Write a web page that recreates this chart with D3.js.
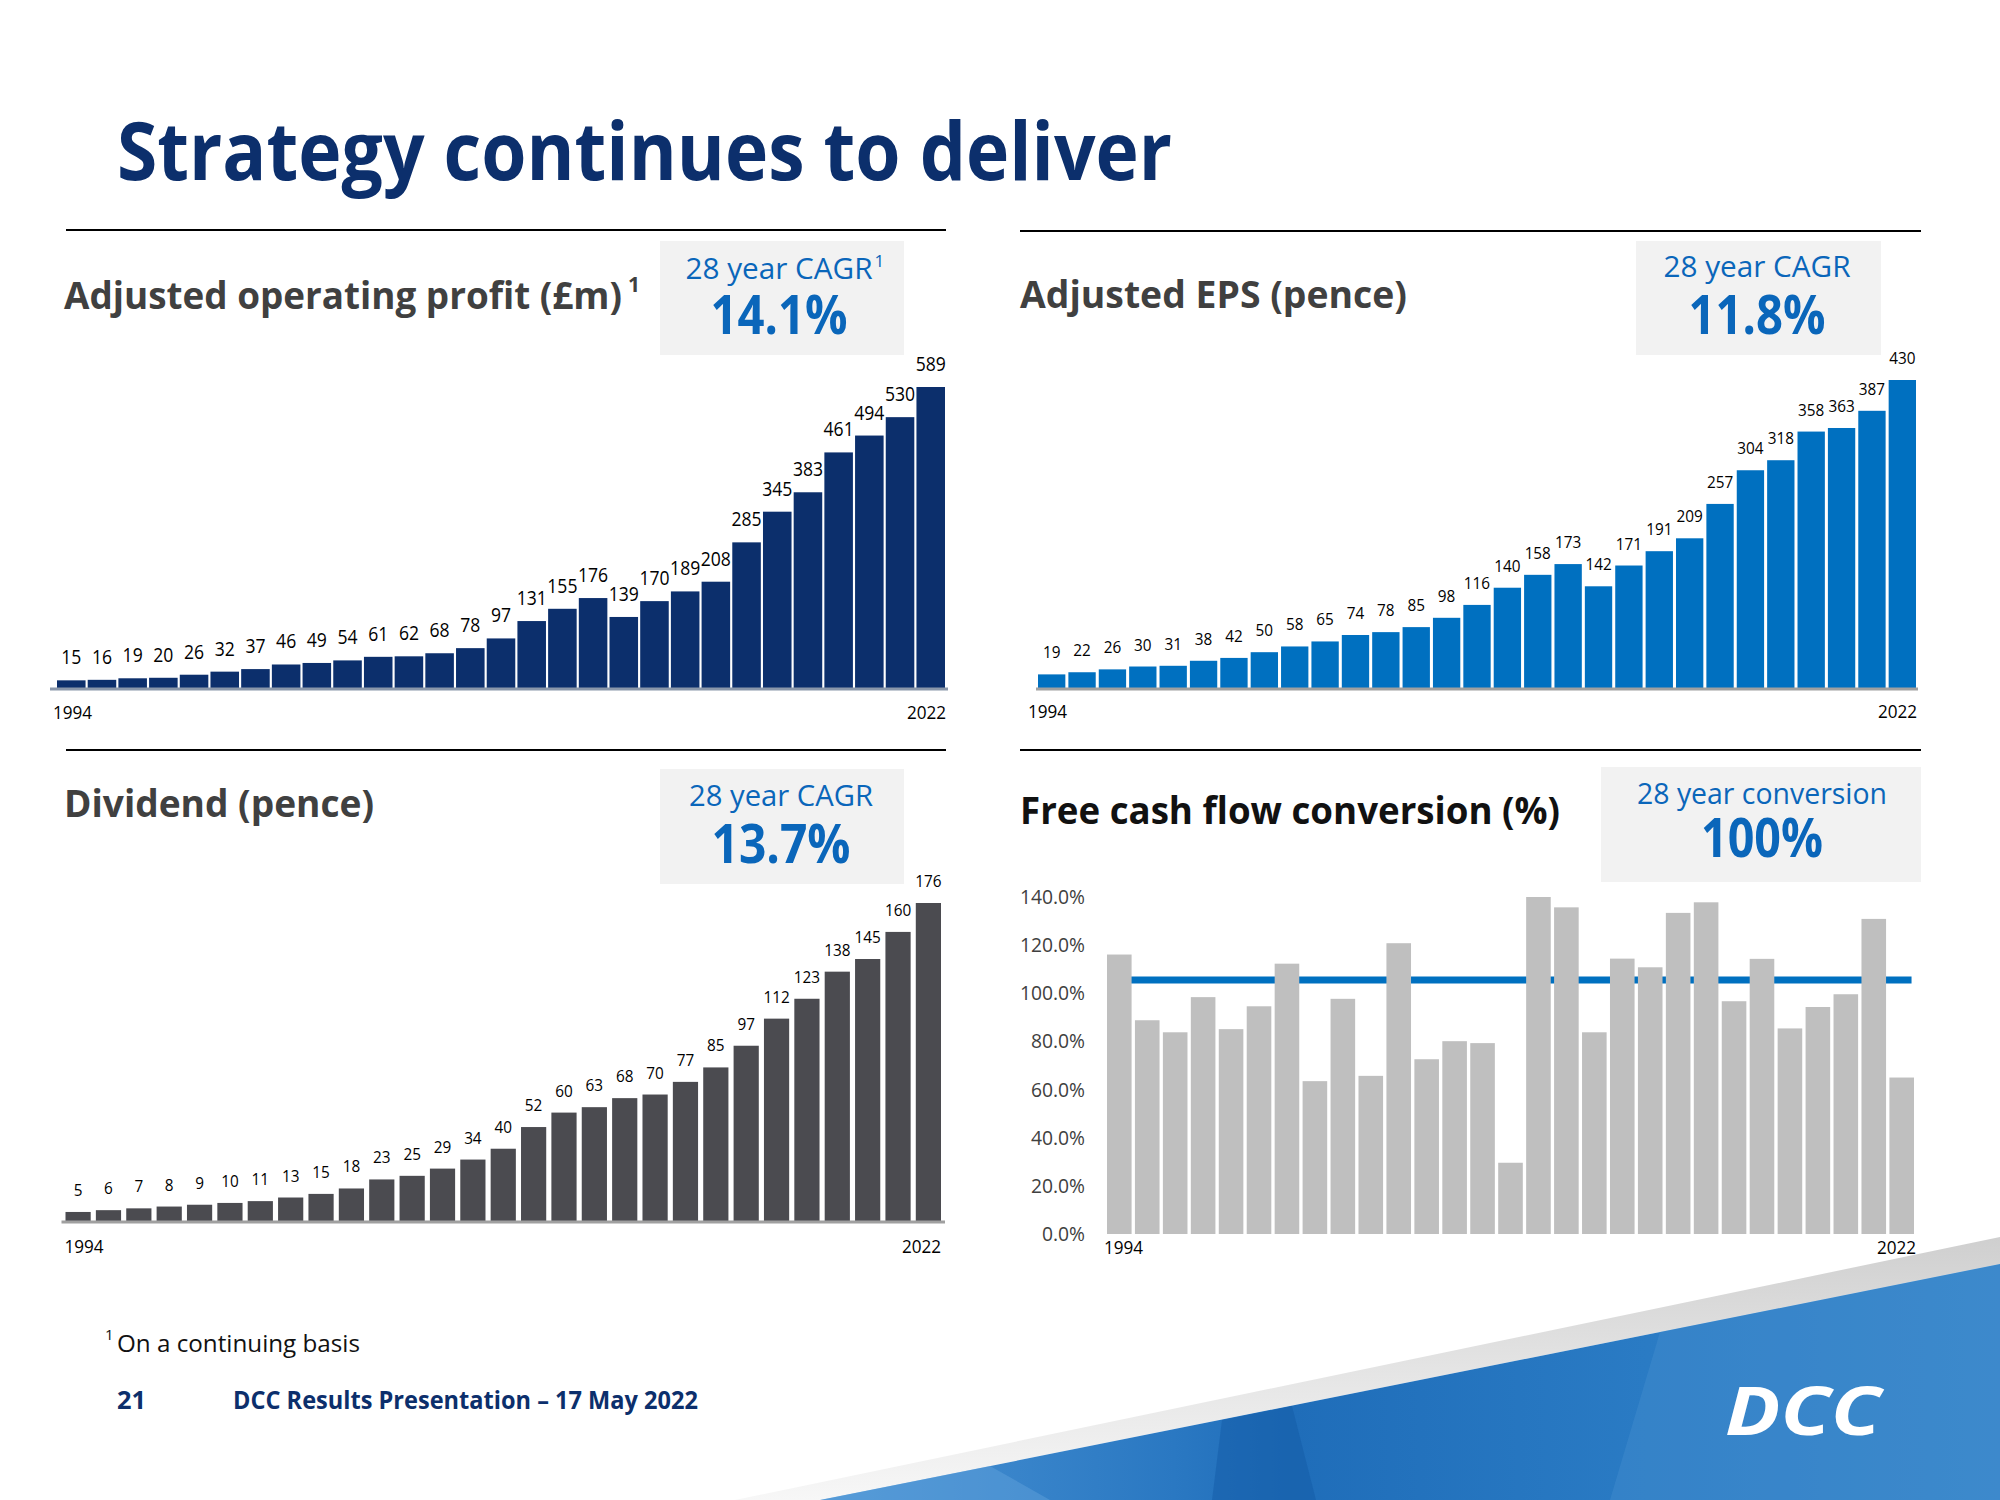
<!DOCTYPE html>
<html><head><meta charset="utf-8">
<script src="https://cdn.jsdelivr.net/npm/d3@7/dist/d3.min.js"></script>
<style>html,body{margin:0;padding:0;background:#fff}svg{display:block}</style>
</head><body>
<script>
// ---------- DATA ----------
const years = ["1994","1995","1996","1997","1998","1999","2000","2001","2002","2003","2004","2005","2006","2007","2008","2009","2010","2011","2012","2013","2014","2015","2016","2017","2018","2019","2020","2021","2022"];
const operatingProfit = [15,16,19,20,26,32,37,46,49,54,61,62,68,78,97,131,155,176,139,170,189,208,285,345,383,461,494,530,589];
const adjustedEps = [19,22,26,30,31,38,42,50,58,65,74,78,85,98,116,140,158,173,142,171,191,209,257,304,318,358,363,387,430];
const dividend = [5,6,7,8,9,10,11,13,15,18,23,25,29,34,40,52,60,63,68,70,77,85,97,112,123,138,145,160,176];
const fcfConversion = [116.1,88.8,83.8,98.4,85.1,94.6,112.3,63.5,97.7,65.7,120.8,72.6,80.1,79.3,29.6,140.0,135.7,83.8,114.4,110.8,133.4,137.8,96.7,114.3,85.4,94.3,99.6,130.9,65.0];
const fcfAverageLine = 105.5;
const fcfTicks = [0,20,40,60,80,100,120,140];
const edgeYears = ["1994","2022"];
const panelTitles = ["Adjusted operating profit (£m)","Adjusted EPS (pence)","Dividend (pence)","Free cash flow conversion (%)"];
const boxCaptions = ["28 year CAGR","28 year CAGR","28 year CAGR","28 year conversion"];
const boxValues = ["14.1%","11.8%","13.7%","100%"];

// ---------- SETUP ----------
const W = 2000, H = 1500;
const FONT = "'Open Sans', 'Liberation Sans', sans-serif";
const NAVY = "#0c2f6c", BLUE = "#0070c0", TXTBLUE = "#0a66ba";
const svg = d3.select("body").append("svg").attr("width", W).attr("height", H)
  .attr("font-family", FONT);

function fitWidth(sel, w) { sel.attr("textLength", w).attr("lengthAdjust", "spacingAndGlyphs"); return sel; }
function condense(sel, f) {
  sel.each(function () {
    const w = this.getComputedTextLength();
    d3.select(this).attr("textLength", w * f).attr("lengthAdjust", "spacingAndGlyphs");
  });
  return sel;
}
function txt(g, o) {
  const t = g.append("text").attr("x", o.x).attr("y", o.y)
    .attr("font-size", o.size).attr("font-weight", o.weight || "normal")
    .attr("fill", o.fill || "#000").attr("text-anchor", o.anchor || "start")
    .text(o.text);
  if (o.italic) t.attr("font-style", "italic");
  if (o.width) fitWidth(t, o.width); else if (o.cond) condense(t, o.cond);
  return t;
}

// ---------- BACKGROUND SWOOSH ----------
const defs = svg.append("defs");
const gBand = defs.append("linearGradient").attr("id", "band").attr("x1", 0).attr("y1", 0).attr("x2", 0).attr("y2", 1);
gBand.append("stop").attr("offset", "0%").attr("stop-color", "#cfcfcf");
gBand.append("stop").attr("offset", "55%").attr("stop-color", "#e6e6e6");
gBand.append("stop").attr("offset", "100%").attr("stop-color", "#f7f7f7");
const gBlue = defs.append("linearGradient").attr("id", "blueg").attr("gradientUnits", "userSpaceOnUse")
  .attr("x1", 820).attr("y1", 0).attr("x2", 2000).attr("y2", 0);
[["0%", "#4a93d4"], ["30%", "#2a78c2"], ["40%", "#1f6db9"], ["70%", "#2a7bc4"], ["100%", "#3685c9"]]
  .forEach(s => gBlue.append("stop").attr("offset", s[0]).attr("stop-color", s[1]));
const line = d3.line();
svg.append("path").attr("d", line([[735, 1500], [2000, 1237], [2000, 1264], [820, 1500]]) + "Z").attr("fill", "url(#band)");
svg.append("path").attr("d", line([[820, 1500], [2000, 1264], [2000, 1500]]) + "Z").attr("fill", "url(#blueg)");
svg.append("path").attr("d", line([[1222, 1420], [1292, 1406], [1316, 1500], [1212, 1500]]) + "Z").attr("fill", "#1258a3").attr("opacity", 0.45);
svg.append("path").attr("d", line([[1660, 1332], [2000, 1264], [2000, 1500], [1610, 1500]]) + "Z").attr("fill", "#4a93d2").attr("opacity", 0.35);
svg.append("path").attr("d", line([[820, 1500], [990, 1466], [1050, 1500]]) + "Z").attr("fill", "#6aa8df").attr("opacity", 0.4);
txt(svg, { x: 1725, y: 1435, text: "DCC", size: 66, weight: "bold", italic: true, fill: "#fff", width: 156 });

// ---------- TITLE ----------
txt(svg, { x: 117, y: 180, text: "Strategy continues to deliver", size: 81, weight: "bold", fill: NAVY, width: 1055 });

// separator lines
[[66, 946, 230], [1020, 1921, 231], [66, 946, 750], [1020, 1921, 750]].forEach(l =>
  svg.append("line").attr("x1", l[0]).attr("x2", l[1]).attr("y1", l[2]).attr("y2", l[2])
    .attr("stroke", "#000").attr("stroke-width", 2));

// panel titles
txt(svg, { x: 64, y: 309, text: panelTitles[0], size: 38, weight: "bold", fill: "#404040", width: 558 });
txt(svg, { x: 628, y: 292, text: "1", size: 21, weight: "bold", fill: "#404040" });
txt(svg, { x: 1020, y: 308, text: panelTitles[1], size: 38, weight: "bold", fill: "#404040", width: 387 });
txt(svg, { x: 64, y: 817, text: panelTitles[2], size: 38, weight: "bold", fill: "#404040", width: 310 });
txt(svg, { x: 1020, y: 824, text: panelTitles[3], size: 38, weight: "bold", fill: "#111", width: 540 });

// CAGR boxes
const boxes = [
  { x0: 660, x1: 904, y0: 241, y1: 355, cx: 779, capY: 279, valY: 334, capW: 187, valW: 137, sup: true },
  { x0: 1636, x1: 1881, y0: 241, y1: 355, cx: 1757, capY: 277, valY: 334, capW: 187, valW: 137 },
  { x0: 660, x1: 904, y0: 769, y1: 884, cx: 781, capY: 806, valY: 863, capW: 184, valW: 139 },
  { x0: 1601, x1: 1921, y0: 767, y1: 882, cx: 1762, capY: 804, valY: 857, capW: 250, valW: 122 }
];
boxes.forEach((b, i) => {
  svg.append("rect").attr("x", b.x0).attr("y", b.y0).attr("width", b.x1 - b.x0).attr("height", b.y1 - b.y0).attr("fill", "#f2f2f2");
  txt(svg, { x: b.cx, y: b.capY, text: boxCaptions[i], size: 30, fill: TXTBLUE, anchor: "middle", width: b.capW });
  if (b.sup) txt(svg, { x: b.cx + b.capW / 2 + 2, y: b.capY - 12, text: "1", size: 17, fill: TXTBLUE });
  txt(svg, { x: b.cx, y: b.valY, text: boxValues[i], size: 53, weight: "bold", fill: TXTBLUE, anchor: "middle", width: b.valW });
});

// ---------- BAR PANELS ----------
function barPanel(cfg) {
  const g = svg.append("g");
  const x = d3.scaleBand().domain(years).range([cfg.x0, cfg.x1]).paddingInner(cfg.pad).paddingOuter(0);
  const y = d3.scaleLinear().domain([0, cfg.max]).range([cfg.base, cfg.top]);
  const bw = x.bandwidth();
  if (cfg.lineValue !== undefined) {
    g.append("line").attr("x1", x(years[0]) + bw / 2).attr("x2", x(years[years.length - 1]) + bw * 0.9)
      .attr("y1", y(cfg.lineValue)).attr("y2", y(cfg.lineValue))
      .attr("stroke", BLUE).attr("stroke-width", 7);
  }
  g.selectAll("rect.bar").data(cfg.values).join("rect").attr("class", "bar")
    .attr("x", (d, i) => x(years[i])).attr("width", bw)
    .attr("y", d => y(d)).attr("height", d => cfg.base - y(d))
    .attr("fill", cfg.color);
  if (cfg.labels) {
    g.selectAll("text.val").data(cfg.values).join("text").attr("class", "val")
      .attr("x", (d, i) => x(years[i]) + bw / 2).attr("y", d => y(d) - 16)
      .attr("text-anchor", "middle").attr("font-size", cfg.labelSize).attr("fill", "#000")
      .text(d => d).call(condense, 0.9);
  }
  if (cfg.axisColor) {
    const ax = g.append("g").attr("transform", `translate(0,${cfg.base + 1})`)
      .call(d3.axisBottom(x).tickSize(0).tickFormat("").tickSizeOuter(0));
    ax.select(".domain").attr("stroke", cfg.axisColor).attr("stroke-width", 3)
      .attr("d", `M${cfg.x0 - cfg.axExtL},0H${cfg.x1 + cfg.axExtR}`);
  }
  txt(g, { x: x(edgeYears[0]) - cfg.yrOffL, y: cfg.yearY, text: edgeYears[0], size: cfg.yearSize, fill: "#000", cond: 0.9 });
  txt(g, { x: x(edgeYears[1]) + bw + cfg.yrOffR, y: cfg.yearY, text: edgeYears[1], size: cfg.yearSize, fill: "#000", anchor: "end", cond: 0.9 });
  return { x, y, g };
}

barPanel({ values: operatingProfit, x0: 57, x1: 945, pad: 0.07, base: 688, top: 387, max: 589, color: NAVY,
  labels: true, labelSize: 19.5, axisColor: "#8a97aa", axExtL: 7, axExtR: 3, yearY: 719, yearSize: 19, yrOffL: 4, yrOffR: 1 });
barPanel({ values: adjustedEps, x0: 1038, x1: 1916, pad: 0.1, base: 688, top: 380, max: 430, color: BLUE,
  labels: true, labelSize: 17, axisColor: "#a0a0a0", axExtL: 2, axExtR: 2, yearY: 718, yearSize: 19, yrOffL: 10, yrOffR: 1 });
barPanel({ values: dividend, x0: 65.5, x1: 941, pad: 0.17, base: 1221, top: 903, max: 176, color: "#4b4b50",
  labels: true, labelSize: 17, axisColor: "#a0a0a0", axExtL: 4, axExtR: 4, yearY: 1253, yearSize: 19, yrOffL: 1, yrOffR: 0 });
const fcf = barPanel({ values: fcfConversion, x0: 1107, x1: 1914, pad: 0.12, base: 1234, top: 897, max: 140, color: "#bfbfbf",
  labels: false, lineValue: fcfAverageLine, yearY: 1254, yearSize: 19, yrOffL: 3, yrOffR: 2 });

// FCF y axis
const yAx = svg.append("g").attr("transform", "translate(1088,0)")
  .call(d3.axisLeft(fcf.y).tickValues(fcfTicks).tickFormat(d => d.toFixed(1) + "%").tickSize(0).tickPadding(3));
yAx.select(".domain").remove();
yAx.selectAll("text").attr("font-size", 20.5).attr("font-family", FONT).attr("fill", "#404040").call(condense, 0.94);

// ---------- FOOTER ----------
txt(svg, { x: 105, y: 1340, text: "1", size: 15, fill: "#111" });
txt(svg, { x: 117, y: 1352, text: "On a continuing basis", size: 23, fill: "#111", width: 243 });
txt(svg, { x: 117, y: 1409, text: "21", size: 25, weight: "bold", fill: NAVY, width: 29 });
txt(svg, { x: 233, y: 1409, text: "DCC Results Presentation – 17 May 2022", size: 25, weight: "bold", fill: NAVY, width: 465 });
</script>
</body></html>
